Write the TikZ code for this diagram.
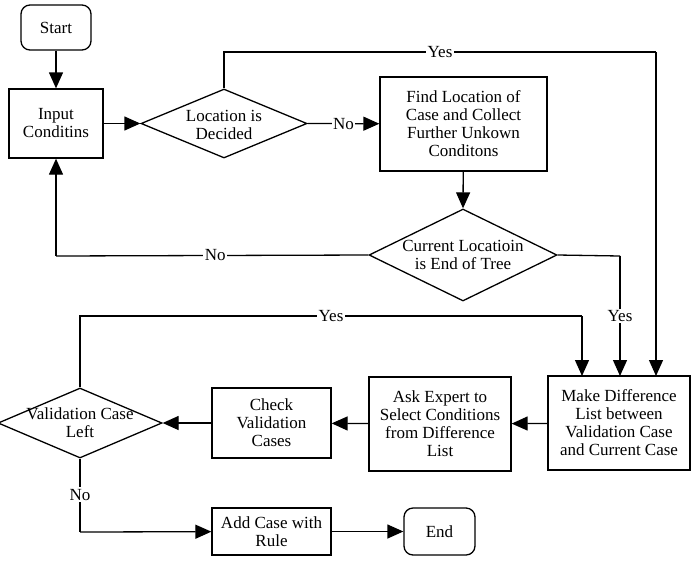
\documentclass[tikz,border=0pt]{standalone}
\usepackage{fontspec}
\setmainfont{Liberation Serif}
\usetikzlibrary{arrows.meta,shapes.geometric}
\begin{document}
\begin{tikzpicture}[x=1pt,y=-1pt,
  every node/.style={font=\fontsize{17}{18}\selectfont, align=center, inner sep=0pt},
  box/.style={draw, line width=1.3pt, minimum width=#1},
  term/.style={draw, line width=1.3pt, rounded corners=9pt},
  line/.style={line width=1.3pt},
  arr/.style={line width=1.3pt, -{Triangle[length=16pt,width=14pt]}},
  lab/.style={fill=white, inner sep=1.5pt}]
\useasboundingbox (0,0) rectangle (692,579);
% nodes
\node[term, minimum width=70pt, minimum height=45pt] (start) at (56,27.5) {Start};
\node[box=94pt, minimum height=69pt] (input) at (56,123.5) {Input\\Conditins};
\node[draw, line width=1.3pt, shape=diamond, minimum width=166pt, minimum height=69pt, aspect=2.4] (loc) at (224,123.5) {};
\node at (224,125) {Location is\\Decided};
\node[box=167pt, minimum height=94pt] (find) at (463.5,124) {Find Location of\\Case and Collect\\Further Unkown\\Conditons};
\node[draw, line width=1.3pt, shape=diamond, minimum width=188pt, minimum height=92pt, aspect=2.04] (cur) at (463,255) {};
\node at (463,255) {Current Locatioin\\is End of Tree};
\node[box=142pt, minimum height=94pt] (diff) at (619,423) {Make Difference\\List between\\Validation Case\\and Current Case};
\node[box=142pt, minimum height=94pt] (ask) at (440,424) {Ask Expert to\\Select Conditions\\from Difference\\List};
\node[box=119pt, minimum height=70pt] (check) at (271.5,423) {Check\\Validation\\Cases};
\node[draw, line width=1.3pt, shape=diamond, minimum width=164pt, minimum height=70pt, aspect=2.34] (val) at (80,423) {};
\node at (80,423) {Validation Case\\Left};
\node[box=119pt, minimum height=47pt] (add) at (271.5,531.5) {Add Case with\\Rule};
\node[term, minimum width=71pt, minimum height=47pt] (end) at (439.5,531.5) {End};
% coordinates
\coordinate (y1) at (224,52);
\coordinate (y1b) at (656,52);
\coordinate (c1) at (620,256);
\coordinate (n1) at (56,256);
\coordinate (v1) at (80,316);
\coordinate (v2) at (582,316);
\coordinate (v3) at (80,532);
% connectors
\draw[arr] (start) -- (input);
\draw[arr] (input) -- (loc.west);
\draw[arr] (loc.east) -- node[lab]{No} (find);
\draw[line] (loc.north) -- (y1) -- node[lab]{Yes} (y1b);
\draw[arr] (y1b) -- (656,376);
\draw[arr] (find) -- (cur.north);
\draw[line] (cur.east) -- (c1);
\draw[arr] (c1) -- node[lab, pos=0.5]{Yes} (620,376);
\draw[line] (cur.west) -- node[lab, pos=0.49]{No} (n1);
\draw[arr] (n1) -- (input);
\draw[arr] (diff) -- (ask);
\draw[arr] (ask) -- (check);
\draw[arr] (check) -- (val.east);
\draw[line] (val.north) -- (v1) -- node[lab, pos=0.5]{Yes} (v2);
\draw[arr] (v2) -- (582,376);
\draw[line] (val.south) -- node[lab, pos=0.49]{No} (v3);
\draw[arr] (v3) -- (add);
\draw[arr] (add) -- (end);
\end{tikzpicture}
\end{document}
